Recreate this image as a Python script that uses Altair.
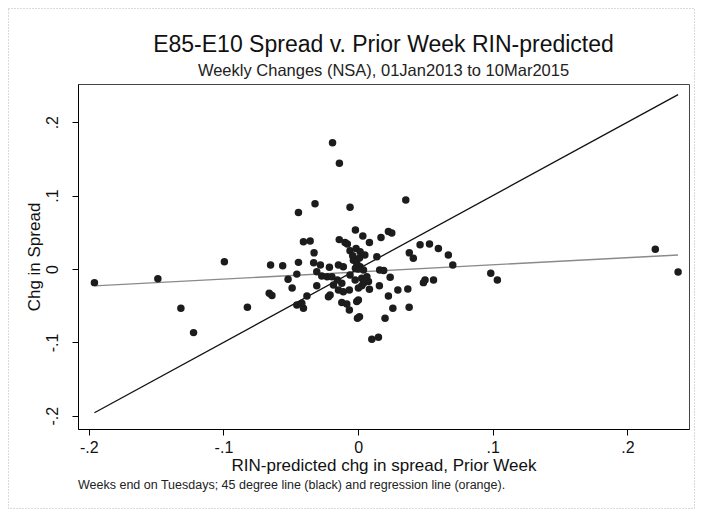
import altair as alt
import pandas as pd

# Scatter points: RIN-predicted change (prior week) vs change in spread
x_vals = [-0.019, -0.0139, -0.032, -0.0443, -0.006, 0.0354, -0.002, 0.0035, 0.0225, 0.025,
          0.017, -0.0406, -0.0356, -0.014, -0.0097, -0.008, 0.0084, 0.046, 0.053, 0.0596,
          0.067, -0.0327, -0.006, -0.0015, 0.0015, 0.005, 0.038, 0.041, 0.0139, -0.0443,
          -0.065, -0.056, -0.033, -0.028, -0.0213, -0.0146, -0.011, -0.0035, -0.001, 0.0015,
          -0.002, 0.004, 0.016, 0.019, -0.0455, -0.052, -0.049, -0.0307, -0.027, -0.023,
          -0.0195, -0.0154, -0.0121, -0.0183, -0.0146, -0.011, -0.0208, -0.022, -0.006, -0.0022,
          0.0027, 0.0065, 0.0077, 0.004, 0.0238, 0.0497, 0.056, 0.0485, -0.0307, -0.0065,
          0.0002, 0.0027, 0.0084, 0.0158, 0.0295, 0.0369, -0.066, -0.038, 0.0225, -0.0455,
          -0.0406, -0.0418, -0.0121, -0.0084, -0.001, 0.0002, -0.0065, 0.0258, 0.0379, -0.0005,
          0.001, 0.020, 0.0102, 0.0151, -0.1958, -0.1487, -0.0993, -0.1316, -0.1222, -0.0822,
          0.0703, 0.0985, 0.1034, 0.2207, 0.2376, -0.064, 0.0, -0.004, 0.001]
y_vals = [0.172, 0.144, 0.089, 0.077, 0.084, 0.094, 0.053, 0.045, 0.051, 0.049,
          0.043, 0.037, 0.038, 0.040, 0.036, 0.034, 0.036, 0.033, 0.034, 0.028,
          0.019, 0.022, 0.025, 0.028, 0.0235, 0.019, 0.022, 0.0145, 0.0168, 0.009,
          0.0054, 0.0045, 0.0086, 0.0054, 0.0023, 0.0054, 0.003, 0.012, 0.0077, 0.003,
          0.001, -0.0014, -0.0014, -0.002, -0.007, -0.014, -0.026, -0.0037, -0.0095, -0.0105,
          -0.0105, -0.015, -0.0195, -0.0218, -0.0286, -0.0309, -0.0354, -0.0377, -0.0082, -0.015,
          -0.0127, -0.0105, -0.0172, -0.0195, -0.0113, -0.015, -0.015, -0.0186, -0.023, -0.0286,
          -0.026, -0.023, -0.0277, -0.023, -0.0286, -0.0272, -0.033, -0.0367, -0.0367, -0.049,
          -0.0535, -0.0467, -0.0458, -0.0476, -0.0444, -0.0422, -0.0558, -0.0535, -0.0522, -0.067,
          -0.065, -0.067, -0.0957, -0.093, -0.0186, -0.0132, 0.0099, -0.0535, -0.0867, -0.0522,
          0.0054, -0.0059, -0.015, 0.0268, -0.0041, -0.036, 0.0, 0.018, 0.015]

# 45 degree line endpoints and regression line endpoints
diag_x = [-0.1958, 0.2376]
diag_y = [-0.1958, 0.2376]
reg_x = [-0.1958, 0.2376]
reg_y = [-0.023, 0.019]

x_ticks = [-0.2, -0.1, 0.0, 0.1, 0.2]
y_ticks = [-0.2, -0.1, 0.0, 0.1, 0.2]

title_text = "E85-E10 Spread v. Prior Week RIN-predicted"
subtitle_text = "Weekly Changes (NSA), 01Jan2013 to 10Mar2015"
x_title = "RIN-predicted chg in spread, Prior Week"
y_title = "Chg in Spread"
note_text = "Weeks end on Tuesdays; 45 degree line (black) and regression line (orange)."

W, H = 611, 345
FONT = "Liberation Sans"
label_expr = ("datum.value == 0 ? '0' : "
              "replace(replace(format(datum.value, '.1f'), '\u2212', '-'), '0.', '.')")

pts = pd.DataFrame({"x": x_vals, "y": y_vals})
diag = pd.DataFrame({"x": diag_x, "y": diag_y})
reg = pd.DataFrame({"x": reg_x, "y": reg_y})

xscale = alt.Scale(domain=[-0.208, 0.2457], nice=False, zero=False)
yscale = alt.Scale(domain=[-0.218, 0.252], nice=False, zero=False)

xaxis = alt.Axis(values=x_ticks, labelExpr=label_expr, title=x_title, grid=False,
                 tickSize=6, labelPadding=4, labelFontSize=16, titleFontSize=17,
                 titleFontWeight="normal", labelFont=FONT, titleFont=FONT,
                 titleY=41, titleBaseline="alphabetic",
                 domainColor="#000", tickColor="#000", labelColor="#111", titleColor="#111")
yaxis = alt.Axis(values=y_ticks, labelExpr=label_expr, title=y_title, grid=False,
                 tickSize=6, labelPadding=15, labelFontSize=16, titleFontSize=17,
                 labelAngle=270, labelAlign="center", labelBaseline="alphabetic",
                 titleFontWeight="normal", labelFont=FONT, titleFont=FONT,
                 titleX=-39, titleY=H / 2, titleAngle=270, titleAlign="center",
                 titleBaseline="alphabetic",
                 domainColor="#000", tickColor="#000", labelColor="#111", titleColor="#111")

points = alt.Chart(pts).mark_circle(size=56, color="#1c1c1c", opacity=1).encode(
    x=alt.X("x:Q", scale=xscale, axis=xaxis),
    y=alt.Y("y:Q", scale=yscale, axis=yaxis),
)

diag_line = alt.Chart(diag).mark_line(color="#111111", strokeWidth=1.3).encode(
    x=alt.X("x:Q", scale=xscale), y=alt.Y("y:Q", scale=yscale))

reg_line = alt.Chart(reg).mark_line(color="#8a8a8a", strokeWidth=1.4).encode(
    x=alt.X("x:Q", scale=xscale), y=alt.Y("y:Q", scale=yscale))

texts = pd.DataFrame({"t": [title_text]})
title_mark = alt.Chart(texts).mark_text(font=FONT, fontSize=23, color="#111",
                                        align="center", baseline="alphabetic").encode(
    x=alt.value(W / 2), y=alt.value(-32), text=alt.value(title_text))
sub_mark = alt.Chart(texts).mark_text(font=FONT, fontSize=16.5, color="#222",
                                      align="center", baseline="alphabetic").encode(
    x=alt.value(W / 2), y=alt.value(-8), text=alt.value(subtitle_text))
note_mark = alt.Chart(texts).mark_text(font=FONT, fontSize=12.5, color="#222",
                                       align="left", baseline="alphabetic").encode(
    x=alt.value(0), y=alt.value(405), text=alt.value(note_text))

border = alt.Chart(texts).mark_rect(fill=None, stroke="#b5b5b5", strokeWidth=1,
                                    strokeDash=[1, 2]).encode(
    x=alt.value(-69.5), x2=alt.value(W + 5.5), y=alt.value(-75.5), y2=alt.value(H + 79.5))

chart = alt.layer(border, reg_line, diag_line, points, title_mark, sub_mark, note_mark).properties(
    width=W, height=H,
    autosize=alt.AutoSizeParams(type="none"),
    padding={"left": 70, "top": 76, "right": 6, "bottom": 80},
    background="white",
).configure_view(stroke="#444", strokeWidth=1)

chart.save("out.html", embed_options={"renderer": "svg", "actions": False})
